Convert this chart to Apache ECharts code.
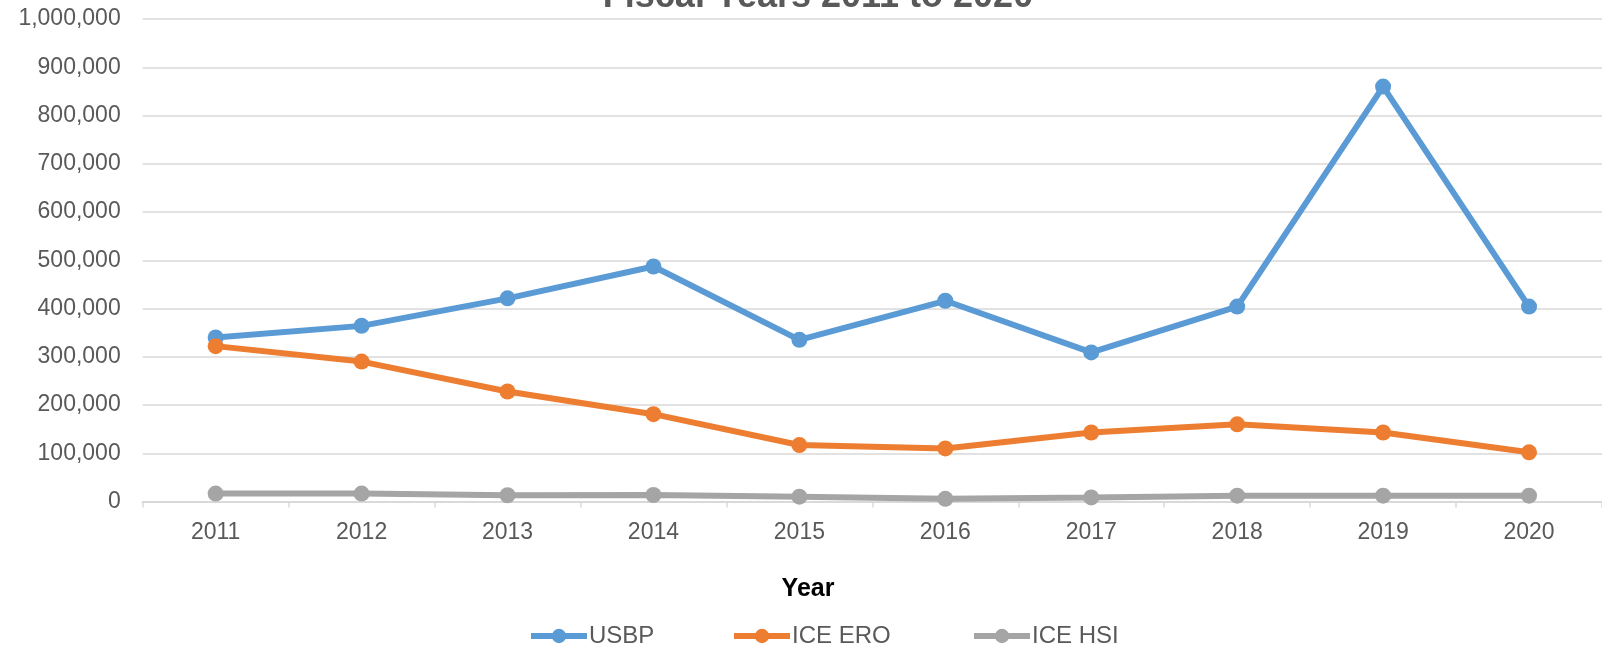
<!DOCTYPE html>
<html>
<head>
<meta charset="utf-8">
<script src="https://cdn.jsdelivr.net/npm/echarts@6/dist/echarts.min.js"></script>
<style>
html,body{margin:0;padding:0;background:#fff;}
#chart{width:1602px;height:654px;}
</style>
</head>
<body>
<div id="chart"></div>
<script>
const titleText = 'Fiscal Years 2011 to 2020';
const xAxisTitle = 'Year';
const years = ['2011','2012','2013','2014','2015','2016','2017','2018','2019','2020'];
const seriesNames = ['USBP', 'ICE ERO', 'ICE HSI'];
const usbp = [340000, 364000, 421000, 487000, 335000, 416000, 309000, 404000, 860000, 404000];
const iceEro = [322000, 290000, 228000, 181000, 117000, 110000, 143000, 160000, 143000, 102000];
const iceHsi = [16500, 16500, 13000, 13500, 10000, 5500, 8500, 12000, 12000, 12000];
const yTicks = [0, 100000, 200000, 300000, 400000, 500000, 600000, 700000, 800000, 900000, 1000000];
const colors = ['#5B9BD5', '#ED7D31', '#A5A5A5'];

const FONT = '"Liberation Sans", Arial, sans-serif';
const chart = echarts.init(document.getElementById('chart'), null, {renderer: 'canvas'});

function mk(name, data, color) {
  return {
    name: name, type: 'line', data: data,
    symbol: 'circle', symbolSize: 16, showAllSymbol: true,
    lineStyle: {color: color, width: 6},
    itemStyle: {color: color},
    emphasis: {disabled: true},
    animation: false
  };
}

function lg(name, left) {
  return {
    left: left, top: 624, padding: 0,
    itemWidth: 56, itemHeight: 18,
    lineStyle: {width: 6},
    textStyle: {fontFamily: FONT, fontSize: 24, color: '#595959', padding: [0,0,0,-3]},
    data: [name]
  };
}

chart.setOption({
  animation: false,
  backgroundColor: '#ffffff',
  textStyle: {fontFamily: FONT},
  title: [
    {text: titleText, left: 813, top: -26, textAlign: 'center',
     textStyle: {fontFamily: FONT, fontSize: 36, fontWeight: 'bold', color: '#595959'}},
    {text: xAxisTitle, left: 803, top: 572, textAlign: 'center',
     textStyle: {fontFamily: FONT, fontSize: 25, fontWeight: 'bold', color: '#000000'}}
  ],
  legend: [lg(seriesNames[0], 528), lg(seriesNames[1], 731), lg(seriesNames[2], 971)],
  grid: {left: 142.7, top: 19, width: 1464, height: 482.5, containLabel: false},
  xAxis: {
    type: 'category', data: years, boundaryGap: true,
    axisLine: {lineStyle: {color: '#D9D9D9', width: 2}},
    axisTick: {show: true, length: 6, lineStyle: {color: '#D9D9D9', width: 1.5}},
    axisLabel: {color: '#595959', fontSize: 23, fontFamily: FONT, margin: 20},
    splitLine: {show: false}
  },
  yAxis: {
    type: 'value', min: yTicks[0], max: yTicks[yTicks.length-1], interval: yTicks[1]-yTicks[0],
    axisLine: {show: false}, axisTick: {show: false},
    axisLabel: {color: '#595959', fontSize: 23, fontFamily: FONT, margin: 22,
      formatter: v => v.toLocaleString('en-US')},
    splitLine: {lineStyle: {color: '#D9D9D9', width: 1.5}}
  },
  series: [
    mk(seriesNames[0], usbp, colors[0]),
    mk(seriesNames[1], iceEro, colors[1]),
    mk(seriesNames[2], iceHsi, colors[2])
  ]
});
</script>
</body>
</html>
